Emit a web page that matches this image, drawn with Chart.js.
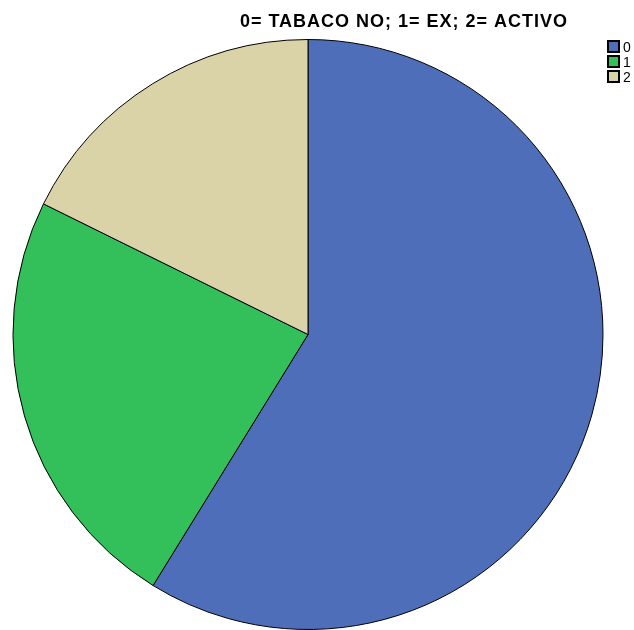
<!DOCTYPE html>
<html>
<head>
<meta charset="utf-8">
<script src="https://cdn.jsdelivr.net/npm/chart.js@4"></script>
<style>
  html, body { margin: 0; padding: 0; background: #fff; }
  #wrap { width: 634px; height: 630px; position: relative; }
</style>
</head>
<body>
<div id="wrap"><canvas id="pie_chart" width="634" height="630"></canvas></div>
<script>
const titleText = '0= TABACO NO; 1= EX; 2= ACTIVO';
const categories = ['0', '1', '2'];
const values = [58.8, 23.5, 17.7];
const sliceColors = ['#4F6EBA', '#33BF5A', '#DAD3A8'];

// title + small legend in the top right, drawn on top without taking layout space
const overlay = {
  id: 'overlay',
  afterDraw(chart) {
    const c = chart.ctx;
    c.save();
    c.fillStyle = '#000';
    c.font = 'bold 18px "Liberation Sans", Arial, sans-serif';
    c.letterSpacing = '1px';
    c.textAlign = 'center';
    c.textBaseline = 'middle';
    c.fillText(titleText, 404, 22);
    c.letterSpacing = '0px';

    c.font = '14px "Liberation Sans", Arial, sans-serif';
    c.textAlign = 'left';
    chart.data.labels.forEach((lab, i) => {
      const y = 47 + i * 15;
      c.fillStyle = sliceColors[i];
      c.fillRect(608, y - 6, 11, 11);
      c.strokeStyle = '#000';
      c.lineWidth = 2;
      c.strokeRect(608, y - 6, 11, 11);
      c.fillStyle = '#000';
      c.fillText(lab, 623, y + 1);
    });
    c.restore();
  }
};

const ctx = document.getElementById('pie_chart');
const myChart = new Chart(ctx, {
  type: 'pie',
  data: {
    labels: categories,
    datasets: [{
      data: values,
      backgroundColor: sliceColors,
      borderColor: '#000',
      borderWidth: 1
    }]
  },
  options: {
    responsive: false,
    animation: false,
    layout: { padding: { left: 12, right: 30, top: 39, bottom: 0 } },
    plugins: {
      legend: { display: false },
      title: { display: false },
      tooltip: { enabled: false }
    }
  },
  plugins: [overlay]
});
</script>
</body>
</html>
